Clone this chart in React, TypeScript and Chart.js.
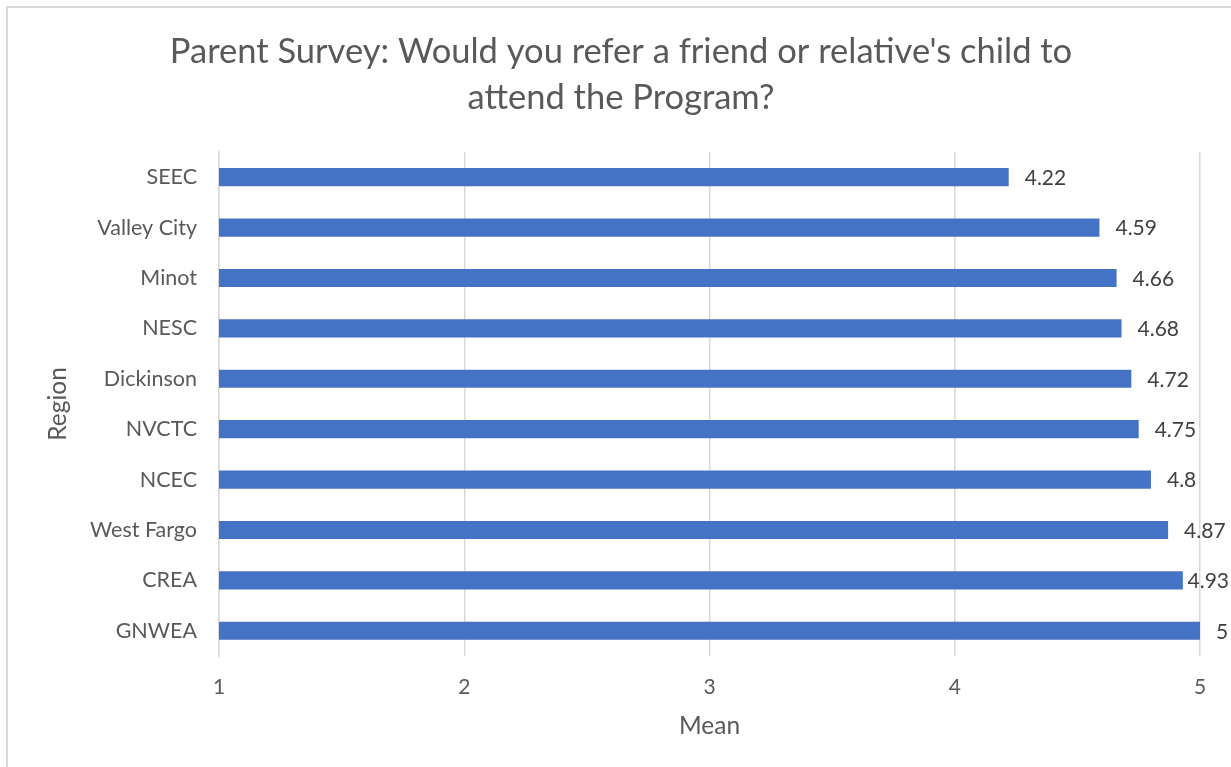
import React, { useEffect, useRef } from "react";
import { Chart, registerables } from "chart.js";

Chart.register(...registerables);

const categories = ["SEEC", "Valley City", "Minot", "NESC", "Dickinson", "NVCTC", "NCEC", "West Fargo", "CREA", "GNWEA"];
const meanValues = [4.22, 4.59, 4.66, 4.68, 4.72, 4.75, 4.8, 4.87, 4.93, 5];
const valueLabels = ["4.22", "4.59", "4.66", "4.68", "4.72", "4.75", "4.8", "4.87", "4.93", "5"];
const titleLines = ["Parent Survey: Would you refer a friend or relative's child to", "attend the Program?"];

const FONT = "Lato, 'Open Sans', sans-serif";
const TEXT = "#595959";

const valueLabelPlugin = {
  id: "valueLabels",
  afterDatasetsDraw(chart: any) {
    const ctx = chart.ctx;
    const meta = chart.getDatasetMeta(0);
    ctx.save();
    ctx.font = `21px ${FONT}`;
    ctx.fillStyle = "#404040";
    ctx.textAlign = "left";
    ctx.textBaseline = "middle";
    meta.data.forEach((bar: any, i: number) => {
      const w = ctx.measureText(valueLabels[i]).width;
      const x = Math.min(bar.x + 16, chart.width - 2 - w);
      ctx.fillText(valueLabels[i], x, bar.y + 1);
    });
    ctx.restore();
  },
};

export default function App() {
  const ref = useRef<HTMLCanvasElement>(null);
  useEffect(() => {
    if (!ref.current) return;
    const chart = new Chart(ref.current, {
      type: "bar",
      data: {
        labels: categories,
        datasets: [
          {
            data: meanValues,
            backgroundColor: "#4472C4",
            borderWidth: 0,
            categoryPercentage: 1,
            barPercentage: 0.36,
          },
        ],
      },
      options: {
        indexAxis: "y",
        animation: false,
        responsive: false,
        layout: { padding: { left: 42, right: 31, top: 0, bottom: 0 } },
        plugins: {
          legend: { display: false },
          tooltip: { enabled: false },
          title: {
            display: true,
            text: titleLines,
            color: TEXT,
            font: { family: FONT, size: 34.5, weight: "normal", lineHeight: 1.333 },
            padding: { top: 29, bottom: 31 },
          },
        },
        scales: {
          x: {
            type: "linear",
            min: 1,
            max: 5,
            ticks: {
              stepSize: 1,
              color: TEXT,
              font: { family: FONT, size: 21 },
              padding: 19,
            },
            grid: { color: "#d9d9d9", drawTicks: false, lineWidth: 1.5 },
            border: { display: false },
            title: {
              display: true,
              text: "Mean",
              color: TEXT,
              font: { family: FONT, size: 24.5 },
              padding: { top: 0, bottom: 26 },
            },
            afterFit(scale: any) {
              scale.height = 111;
            },
          },
          y: {
            type: "category",
            ticks: {
              color: TEXT,
              font: { family: FONT, size: 21.5 },
              padding: 22,
            },
            grid: { display: false, drawTicks: false },
            border: { display: true, color: "#d9d9d9", width: 1.5 },
            title: {
              display: true,
              text: "Region",
              color: TEXT,
              font: { family: FONT, size: 24.5 },
              padding: { top: 1, bottom: 0 },
            },
            afterFit(scale: any) {
              scale.width = 177;
            },
          },
        },
      },
      plugins: [valueLabelPlugin],
    });
    return () => chart.destroy();
  }, []);

  return (
    <div style={{ position: "fixed", left: 0, top: 0, width: 1231, height: 767, background: "#fff", overflow: "hidden" }}>
      <div
        style={{
          position: "absolute",
          left: 6,
          top: 6,
          width: 1260,
          height: 800,
          border: "2px solid #d9d9d9",
          boxSizing: "border-box",
        }}
      />
      <canvas ref={ref} width={1231} height={767} style={{ position: "absolute", left: 0, top: 0 }} />
    </div>
  );
}
